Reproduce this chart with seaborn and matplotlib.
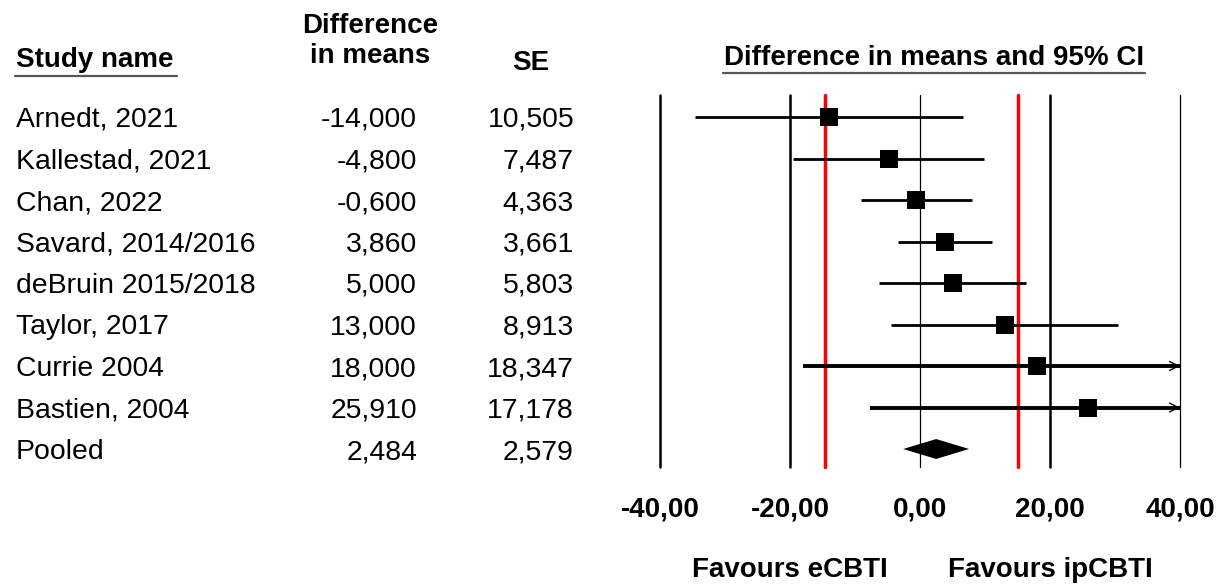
import numpy as np
import pandas as pd
import matplotlib
matplotlib.use("Agg")
import matplotlib.pyplot as plt
import matplotlib.transforms as mtransforms
from matplotlib.lines import Line2D
import seaborn as sns

# ---- data ----
studies = ["Arnedt, 2021", "Kallestad, 2021", "Chan, 2022", "Savard, 2014/2016",
           "deBruin 2015/2018", "Taylor, 2017", "Currie 2004", "Bastien, 2004", "Pooled"]
diff_means = [-14.000, -4.800, -0.600, 3.860, 5.000, 13.000, 18.000, 25.910, 2.484]
std_err = [10.505, 7.487, 4.363, 3.661, 5.803, 8.913, 18.347, 17.178, 2.579]
x_ticks = [-40, -20, 0, 20, 40]
x_tick_labels = ["-40,00", "-20,00", "0,00", "20,00", "40,00"]
ref_lines = [-14.6, 15.1]
favours_left = "Favours eCBTI"
favours_right = "Favours ipCBTI"

sns.set_theme(style="white")
plt.rcParams["font.family"] = ["Liberation Sans", "DejaVu Sans"]

W, H = 1218, 584
fig = plt.figure(figsize=(W / 100, H / 100), dpi=100)
fig.patch.set_facecolor("white")

df = pd.DataFrame({"study": studies, "diff": diff_means, "se": std_err})
df["row"] = np.arange(len(df))
df["lo"] = df["diff"] - 1.96 * df["se"]
df["hi"] = df["diff"] + 1.96 * df["se"]

x0, x1 = 660, 1180
y_top, y_bot = 95, 467
ax = fig.add_axes([x0 / W, 1 - y_bot / H, (x1 - x0) / W, (y_bot - y_top) / H])
ax.set_xlim(-40, 40)
row0, dy = 117, 41.5
ax.set_ylim(8 + (y_bot - (row0 + 8 * dy)) / dy, -(row0 - y_top) / dy)
for s in ax.spines.values():
    s.set_visible(False)
ax.set_facecolor("white")
ax.set_yticks([])

# vertical lines
thick = {-40: 1.8, -20: 1.8, 0: 0.9, 20: 1.8, 40: 0.9}
for t in x_ticks:
    ax.axvline(t, color="black", lw=thick[t], clip_on=False, zorder=1)
for r in ref_lines:
    ax.axvline(r, color="#ff0000", lw=2.5, clip_on=False, zorder=2)

studies_df = df.iloc[:-1]
pooled = df.iloc[-1]

# CI lines
for _, r in studies_df.iterrows():
    over = r["hi"] > 40
    lw = 2.8 if over else 2.0
    ax.hlines(r["row"], max(r["lo"], -40), min(r["hi"], 40), color="black", lw=lw,
              zorder=3)
    if over:
        ax.annotate("", xy=(40, r["row"]), xytext=(38, r["row"]),
                    arrowprops=dict(arrowstyle="->", lw=1.0, color="black",
                                    shrinkA=0, shrinkB=0, mutation_scale=16),
                    zorder=3)

sns.scatterplot(data=studies_df, x="diff", y="row", marker="s", s=160, color="black",
                edgecolor="black", linewidth=0, ax=ax, zorder=4, legend=False)
ax.set_xlabel("")
ax.set_ylabel("")

# pooled diamond
hh = 0.24
ax.fill([pooled["lo"], pooled["diff"], pooled["hi"], pooled["diff"]],
        [pooled["row"], pooled["row"] - hh, pooled["row"], pooled["row"] + hh],
        color="black", zorder=4, lw=0)

ax.set_xticks(x_ticks)
ax.set_xticklabels(x_tick_labels, fontsize=20, fontweight="bold")
ax.tick_params(axis="x", length=0, pad=21, colors="black")

# favours labels
for xv, txt in [(-20, favours_left), (20, favours_right)]:
    ax.annotate(txt, xy=(xv, 7), xycoords=("data", "figure pixels"), ha="center",
                va="baseline", fontsize=20, fontweight="bold", color="black")

# table columns
trans = mtransforms.blended_transform_factory(fig.transFigure, ax.transData)
fmt = lambda v: f"{v:.3f}".replace(".", ",")
fs = 20.4
for _, r in df.iterrows():
    ax.text(16 / W, r["row"], r["study"], transform=trans, ha="left", va="center_baseline",
            fontsize=fs, color="black", clip_on=False)
    ax.text(417 / W, r["row"], fmt(r["diff"]), transform=trans, ha="right",
            va="center_baseline", fontsize=fs, color="black", clip_on=False)
    ax.text(574 / W, r["row"], fmt(r["se"]), transform=trans, ha="right",
            va="center_baseline", fontsize=fs, color="black", clip_on=False)

# headers
def ftext(x, y_base, s, ha="left"):
    fig.text(x / W, 1 - y_base / H, s, ha=ha, va="baseline", fontsize=20,
             fontweight="bold", color="black")

ftext(16, 67, "Study name")
ftext(370, 33, "Difference", ha="center")
ftext(370, 63, "in means", ha="center")
ftext(531, 70, "SE", ha="center")
ftext(934, 65, "Difference in means and 95% CI", ha="center")

fig.add_artist(Line2D([15 / W, 177 / W], [1 - 76 / H, 1 - 76 / H], color="#555555",
                      lw=1.6, transform=fig.transFigure))
fig.add_artist(Line2D([723 / W, 1145 / W], [1 - 73 / H, 1 - 73 / H], color="#555555",
                      lw=1.6, transform=fig.transFigure))

fig.savefig("out.png", dpi=100, facecolor="white")
